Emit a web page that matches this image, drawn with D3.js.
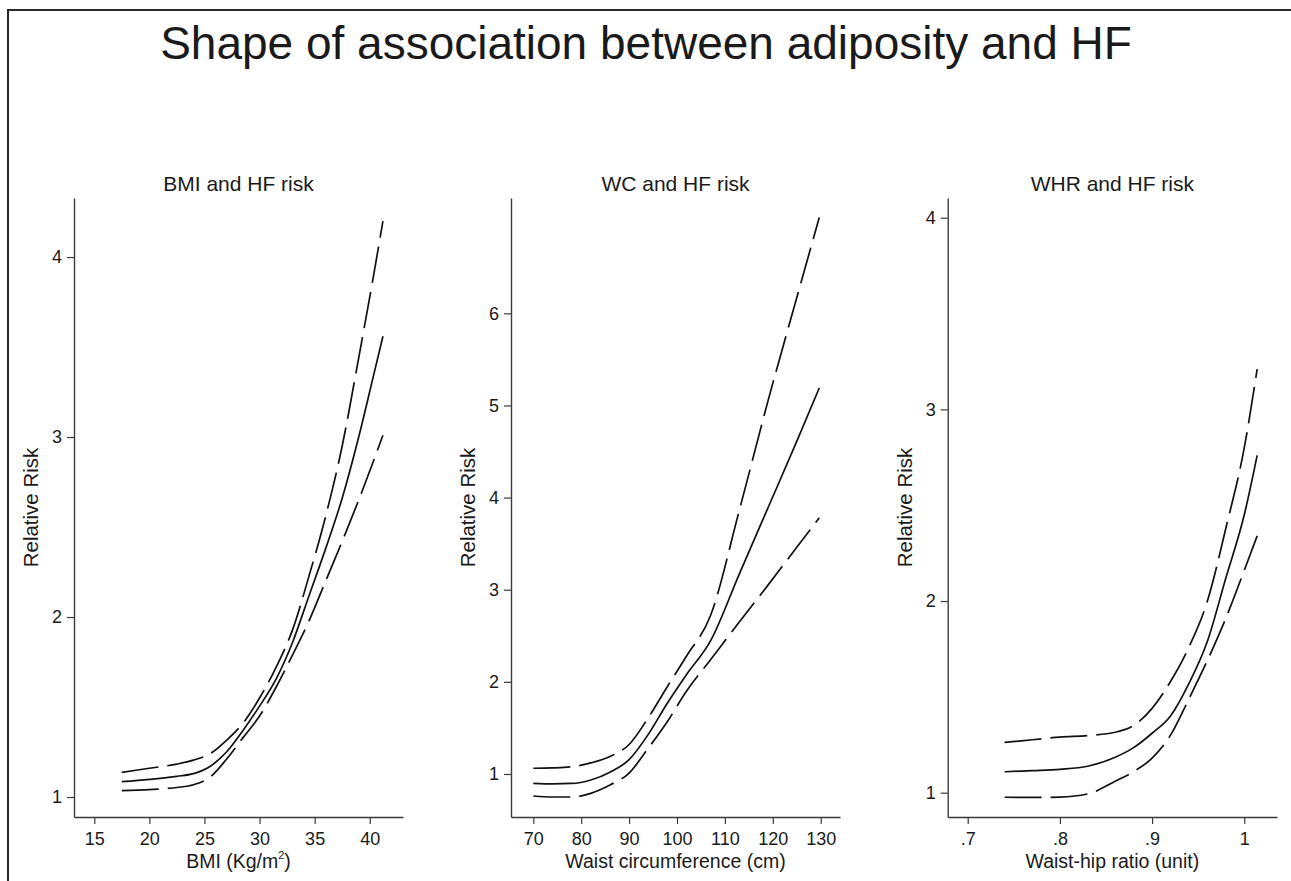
<!DOCTYPE html>
<html>
<head>
<meta charset="utf-8">
<script src="https://cdn.jsdelivr.net/npm/d3@7/dist/d3.min.js"></script>
<style>
  html, body { margin: 0; padding: 0; background: #fff; }
  svg { display: block; }
  text { font-family: "Liberation Sans", Arial, Helvetica, sans-serif; fill: #1a1a1a; }
</style>
</head>
<body>
<svg id="chart" width="1291" height="881"></svg>
<script>
// Restricted cubic spline estimates: relative risk of heart failure with 95% CI

// BMI (kg/m^2)
const bmiX  = [17.5, 20, 22.5, 24, 25.5, 27, 28.5, 30, 31.5, 33, 34.5, 36, 37.5, 39, 40.3, 41.2];
const bmiRR = [1.085, 1.098, 1.115, 1.13, 1.17, 1.25, 1.37, 1.505, 1.655, 1.86, 2.12, 2.38, 2.66, 3.0, 3.33, 3.56];
const bmiHi = [1.137, 1.16, 1.183, 1.205, 1.24, 1.315, 1.41, 1.55, 1.72, 1.93, 2.23, 2.56, 2.95, 3.44, 3.88, 4.2];
const bmiLo = [1.035, 1.041, 1.053, 1.068, 1.11, 1.21, 1.33, 1.45, 1.61, 1.79, 1.98, 2.2, 2.42, 2.65, 2.86, 3.01];

// Waist circumference (cm)
const wcX  = [70, 74, 78, 82, 86, 90, 94, 98, 102, 107, 113, 119, 125, 129.7];
const wcRR = [0.899, 0.893, 0.897, 0.935, 1.02, 1.155, 1.43, 1.77, 2.08, 2.445, 3.17, 3.89, 4.61, 5.19];
const wcHi = [1.062, 1.066, 1.078, 1.12, 1.19, 1.32, 1.61, 1.95, 2.28, 2.72, 3.86, 5.05, 6.17, 7.04];
const wcLo = [0.761, 0.75, 0.75, 0.79, 0.88, 1.01, 1.28, 1.57, 1.9, 2.24, 2.65, 3.05, 3.46, 3.78];

// Waist-hip ratio
const whrX  = [0.74, 0.77, 0.80, 0.83, 0.86, 0.88, 0.90, 0.92, 0.94, 0.96, 0.98, 1.0, 1.014];
const whrRR = [1.109, 1.115, 1.122, 1.138, 1.185, 1.235, 1.31, 1.40, 1.57, 1.79, 2.12, 2.45, 2.76];
const whrHi = [1.262, 1.276, 1.29, 1.298, 1.315, 1.35, 1.44, 1.58, 1.76, 2.0, 2.38, 2.8, 3.21];
const whrLo = [0.976, 0.975, 0.977, 0.993, 1.06, 1.11, 1.18, 1.30, 1.49, 1.69, 1.91, 2.16, 2.34];

// Tick values and labels
const bmiTicksX = [15, 20, 25, 30, 35, 40];
const bmiTicksY = [1, 2, 3, 4];
const wcTicksX  = [70, 80, 90, 100, 110, 120, 130];
const wcTicksY  = [1, 2, 3, 4, 5, 6];
const whrTicksX = [0.7, 0.8, 0.9, 1.0];
const whrTickLabels = [".7", ".8", ".9", "1"];
const whrTicksY = [1, 2, 3, 4];

const titleText = "Shape of association between adiposity and HF";
const panelTitles = ["BMI and HF risk", "WC and HF risk", "WHR and HF risk"];
const yTitle = "Relative Risk";

const svg = d3.select("#chart");

// Outer frame (only top and left edges fall inside the canvas)
svg.append("rect")
  .attr("x", 8).attr("y", 10)
  .attr("width", 1400).attr("height", 1000)
  .attr("fill", "none").attr("stroke", "#2a2a2a").attr("stroke-width", 2);

svg.append("text")
  .attr("x", 646).attr("y", 59)
  .attr("text-anchor", "middle")
  .style("font-size", "46px")
  .text(titleText);

const plotTop = 198, plotBottom = 817;

const panels = [
  { title: panelTitles[0], x: bmiX, rr: bmiRR, lo: bmiLo, hi: bmiHi,
    xr: [74, 403], xd: [13.16, 43.02], yd: [0.889, 4.328],
    tx: bmiTicksX, ty: bmiTicksY, fmtX: d => d3.format("d")(d), xlabel: "bmi" },
  { title: panelTitles[1], x: wcX, rr: wcRR, lo: wcLo, hi: wcHi,
    xr: [511, 840], xd: [65.34, 134.03], yd: [0.533, 7.252],
    tx: wcTicksX, ty: wcTicksY, fmtX: d => d3.format("d")(d), xlabel: "Waist circumference (cm)" },
  { title: panelTitles[2], x: whrX, rr: whrRR, lo: whrLo, hi: whrHi,
    xr: [947.7, 1277], xd: [0.6783, 1.0355], yd: [0.873, 4.103],
    tx: whrTicksX, ty: whrTicksY, fmtX: (d, i) => whrTickLabels[i], xlabel: "Waist-hip ratio (unit)" }
];

panels.forEach(p => {
  const x = d3.scaleLinear().domain(p.xd).range(p.xr);
  const y = d3.scaleLinear().domain(p.yd).range([plotBottom, plotTop]);
  const g = svg.append("g");

  // Axes
  const xAxis = d3.axisBottom(x).tickValues(p.tx).tickFormat(p.fmtX)
    .tickSizeInner(7).tickSizeOuter(0).tickPadding(8);
  const yAxis = d3.axisLeft(y).tickValues(p.ty).tickFormat(d3.format("d"))
    .tickSizeInner(7).tickSizeOuter(0).tickPadding(5);

  const gx = g.append("g").attr("transform", `translate(0,${plotBottom})`).call(xAxis);
  const gy = g.append("g").attr("transform", `translate(${p.xr[0]},0)`).call(yAxis);
  [gx, gy].forEach(a => {
    a.select(".domain").attr("stroke", "#3a3a3a").attr("stroke-width", 1.4);
    a.selectAll(".tick line").attr("stroke", "#3a3a3a").attr("stroke-width", 1.2);
    a.selectAll(".tick text").attr("fill", "#1a1a1a")
      .style("font-size", "18px").style("font-family", "'Liberation Sans', Arial, sans-serif");
  });

  const cx = (p.xr[0] + p.xr[1]) / 2;

  // Panel title
  g.append("text").attr("x", cx).attr("y", 191)
    .attr("text-anchor", "middle").style("font-size", "21px").text(p.title);

  // Y-axis title
  g.append("text")
    .attr("transform", `translate(${p.xr[0] - 36},${(plotTop + plotBottom) / 2}) rotate(-90)`)
    .attr("text-anchor", "middle").style("font-size", "20.5px").text(yTitle);

  // X-axis title
  const xt = g.append("text").attr("x", cx).attr("y", 868)
    .attr("text-anchor", "middle").style("font-size", "19.5px");
  if (p.xlabel === "bmi") {
    xt.append("tspan").text("BMI (Kg/m");
    xt.append("tspan").attr("dy", -9).style("font-size", "11px").text("2");
    xt.append("tspan").attr("dy", 9).text(")");
  } else {
    xt.text(p.xlabel);
  }

  // Curves
  const line = (vals) => d3.line()
    .x((d, i) => x(p.x[i]))
    .y(d => y(d))
    .curve(d3.curveMonotoneX)(vals);

  [p.hi, p.lo].forEach(vals => {
    g.append("path").attr("d", line(vals))
      .attr("fill", "none").attr("stroke", "#111").attr("stroke-width", 1.7)
      .attr("stroke-dasharray", "37,9");
  });
  g.append("path").attr("d", line(p.rr))
    .attr("fill", "none").attr("stroke", "#111").attr("stroke-width", 1.7);
});
</script>
</body>
</html>
